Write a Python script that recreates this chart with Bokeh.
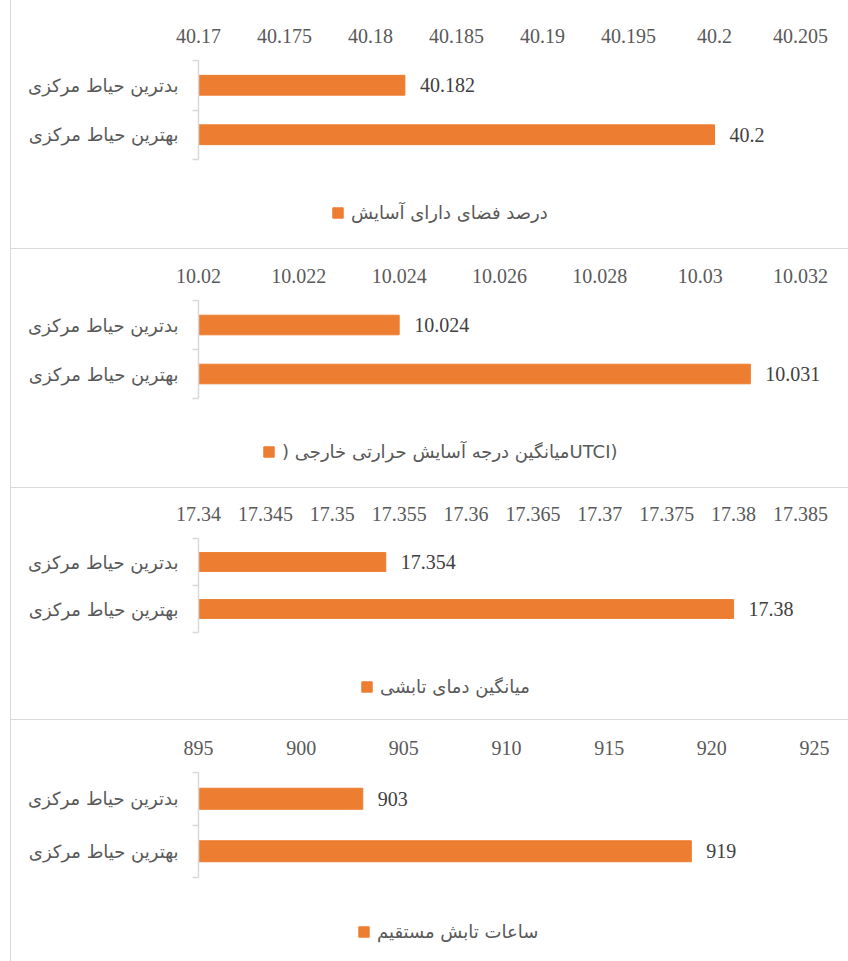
from bokeh.plotting import figure
from bokeh.models import (Range1d, FixedTicker, ColumnDataSource, LabelSet, Div)
from bokeh.layouts import row, column
from bokeh.core.properties import value
from bokeh.embed import file_html
from bokeh.resources import INLINE

# ---------------- data ----------------
categories = ["بدترین حیاط مرکزی", "بهترین حیاط مرکزی"]   # top to bottom

title_comfort = "درصد فضای دارای آسایش"
title_utci = ") میانگین درجه آسایش حرارتی خارجیUTCI)"
title_mrt = "میانگین دمای تابشی"
title_sun = "ساعات تابش مستقیم"

values_comfort = [40.182, 40.2]
values_utci = [10.024, 10.031]
values_mrt = [17.354, 17.38]
values_sun = [903, 919]

ticks_comfort = [40.17, 40.175, 40.18, 40.185, 40.19, 40.195, 40.2, 40.205]
tick_labels_comfort = ["40.17", "40.175", "40.18", "40.185", "40.19", "40.195", "40.2", "40.205"]
ticks_utci = [10.02, 10.022, 10.024, 10.026, 10.028, 10.03, 10.032]
tick_labels_utci = ["10.02", "10.022", "10.024", "10.026", "10.028", "10.03", "10.032"]
ticks_mrt = [17.34, 17.345, 17.35, 17.355, 17.36, 17.365, 17.37, 17.375, 17.38, 17.385]
tick_labels_mrt = ["17.34", "17.345", "17.35", "17.355", "17.36", "17.365", "17.37", "17.375", "17.38", "17.385"]
ticks_sun = [895, 900, 905, 910, 915, 920, 925]
tick_labels_sun = ["895", "900", "905", "910", "915", "920", "925"]

# ---------------- style / layout ----------------
BAR = "#ED7D31"
GRID = "#d9d9d9"
TXT = "#595959"
NUM_FONT = "Liberation Serif"
FA_FONT = "DejaVu Sans"
PW = 837            # figure width
OFF = 11            # page x of figure's left edge
FRAME_L = 198       # page x where the value axis starts

n_cat = len(categories)
cat_pos = [n_cat - i - 0.5 for i in range(n_cat)]   # slot centres, top first
cat_bounds = list(range(n_cat + 1))                 # slot boundaries (bracket ticks)


def make_panel(title, vals, ticks, tick_labels, height, top, bottom, axis_right,
               legend_x, legend_cy):
    # frame fills to the right/bottom edge so labels and legend are never clipped;
    # ranges are widened so the axis ends / category slots sit where the chart has them
    frame_w = OFF + PW - FRAME_L
    x_end = ticks[0] + (ticks[-1] - ticks[0]) * frame_w / (axis_right - FRAME_L)
    y_start = -n_cat * (height - bottom) / (bottom - top)

    p = figure(width=PW, height=height,
               y_range=Range1d(y_start, n_cat),
               x_range=Range1d(ticks[0], x_end),
               x_axis_location="above", y_axis_location="left",
               output_backend="svg", toolbar_location=None,
               min_border_left=FRAME_L - OFF, min_border_right=0,
               min_border_top=top, min_border_bottom=0,
               outline_line_color=None, background_fill_color="white",
               border_fill_color="white")
    p.xgrid.visible = False
    p.ygrid.visible = False

    xa = p.xaxis[0]
    xa.ticker = FixedTicker(ticks=ticks)
    xa.major_label_overrides = dict(zip(ticks, tick_labels))
    xa.axis_line_color = None
    xa.major_tick_line_color = None
    xa.minor_tick_line_color = None
    xa.major_label_text_font = NUM_FONT
    xa.major_label_text_font_size = "20px"
    xa.major_label_text_color = TXT
    xa.major_label_standoff = 12

    ya = p.yaxis[0]
    ya.bounds = (0, n_cat)
    ya.ticker = FixedTicker(ticks=cat_pos, minor_ticks=cat_bounds)
    ya.major_label_overrides = dict(zip(cat_pos, categories))
    ya.axis_line_color = GRID
    ya.axis_line_width = 1.5
    ya.major_tick_line_color = None
    ya.major_tick_in = 0
    ya.major_tick_out = 0
    ya.minor_tick_line_color = GRID
    ya.minor_tick_line_width = 1.5
    ya.minor_tick_in = 0
    ya.minor_tick_out = 6
    ya.major_label_text_font = FA_FONT
    ya.major_label_text_font_size = "18px"
    ya.major_label_text_color = TXT
    ya.major_label_standoff = 14

    src = ColumnDataSource(dict(pos=cat_pos, cat=categories, val=vals,
                                lbl=[str(v) for v in vals]))
    p.hbar(y="pos", left=ticks[0], right="val", height=0.4, source=src,
           fill_color=BAR, line_color=BAR, legend_label=title)

    labels = LabelSet(x="val", y="pos", text="lbl", source=src,
                      x_offset=15, text_baseline="middle", text_align="left",
                      text_font=value(NUM_FONT), text_font_size=value("20px"),
                      text_color="#404040")
    p.add_layout(labels)

    leg = p.legend[0]
    # (x, y) measured from the frame's bottom-left; frame bottom = figure bottom
    leg.location = (legend_x, height - legend_cy - 10)
    leg.orientation = "horizontal"
    leg.glyph_width = 13
    leg.glyph_height = 13
    leg.label_standoff = 7
    leg.padding = 0
    leg.margin = 0
    leg.border_line_color = None
    leg.background_fill_alpha = 0
    leg.label_text_font = FA_FONT
    leg.label_text_font_size = "18px"
    leg.label_text_color = TXT
    return p


p1 = make_panel(title_comfort, values_comfort, ticks_comfort, tick_labels_comfort,
                248, 60, 159, 800, 133, 213)
p2 = make_panel(title_utci, values_utci, ticks_utci, tick_labels_utci,
                238, 51, 149, 800, 64, 203)
p3 = make_panel(title_mrt, values_mrt, ticks_mrt, tick_labels_mrt,
                231, 50, 144, 800, 162, 199)
p4 = make_panel(title_sun, values_sun, ticks_sun, tick_labels_sun,
                241, 52, 157, 814, 159, 212)


def hsep():
    return Div(width=PW, height=1, margin=0, styles={"background-color": GRID})


left_pad = Div(width=10, height=961, margin=0)
vline = Div(width=1, height=961, margin=0, styles={"background-color": GRID})
layout = row(left_pad, vline, column(p1, hsep(), p2, hsep(), p3, hsep(), p4, spacing=0),
             spacing=0)

open("out.html", "w").write(file_html(layout, INLINE))
